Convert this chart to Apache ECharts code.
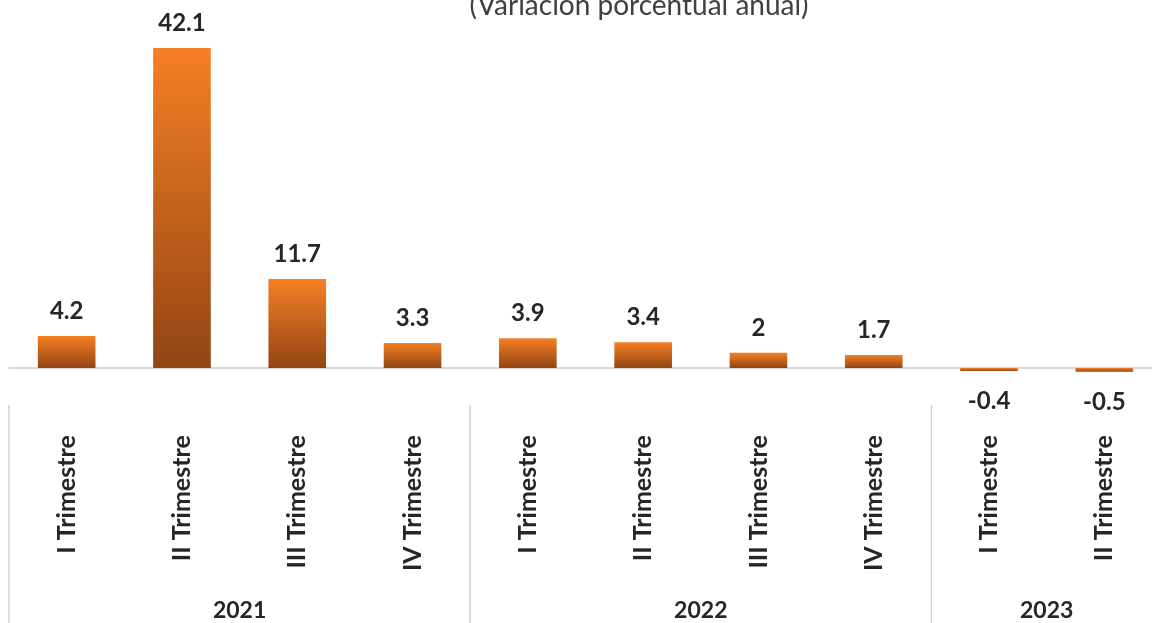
<!DOCTYPE html>
<html>
<head>
<meta charset="utf-8">
<script src="https://cdn.jsdelivr.net/npm/echarts@6/dist/echarts.min.js"></script>
<style>
  html, body { margin: 0; padding: 0; background: #fff; }
  #chart { width: 1152px; height: 623px; }
</style>
</head>
<body>
<div id="chart"></div>
<script>
// trimestres (eje x)
const categories = [
  'I Trimestre', 'II Trimestre', 'III Trimestre', 'IV Trimestre',
  'I Trimestre', 'II Trimestre', 'III Trimestre', 'IV Trimestre',
  'I Trimestre', 'II Trimestre'
];
// variación porcentual anual
const values = [4.2, 42.1, 11.7, 3.3, 3.9, 3.4, 2, 1.7, -0.4, -0.5];
// años y cuántos trimestres tiene cada uno
const years = ['2021', '2022', '2023'];
const yearSizes = [4, 4, 2];

const FONT = 'Lato, "Noto Sans", sans-serif';
const TEXT = '#262626';

const chart = echarts.init(document.getElementById('chart'));

// degradado naranja -> café como el original
const barColor = new echarts.graphic.LinearGradient(0, 0, 0, 1, [
  { offset: 0, color: '#F67F24' },
  { offset: 1, color: '#914513' }
]);

const option = {
  animation: false,
  grid: { left: 9, width: 1153, top: 10.8, bottom: 239.8, outerBoundsMode: 'none', containLabel: false },
  xAxis: {
    type: 'category',
    data: categories,
    axisLine: { onZero: true, lineStyle: { color: '#d9d9d9', width: 2 } },
    axisTick: { show: false },
    axisLabel: {
      rotate: 90,
      margin: 52,
      interval: 0,
      fontFamily: FONT,
      fontSize: 25,
      fontWeight: 'bold',
      color: TEXT
    }
  },
  yAxis: {
    type: 'value',
    min: -2,
    max: 47,
    show: false,
    splitLine: { show: false }
  },
  series: [{
    type: 'bar',
    barWidth: '50%',
    itemStyle: { color: barColor },
    label: {
      show: true,
      fontFamily: FONT,
      fontSize: 24,
      fontWeight: 'bold',
      color: TEXT
    },
    data: values.map(v => ({
      value: v,
      label: v < 0 ? { position: 'bottom', distance: 18 } : { position: 'top', distance: 13 }
    }))
  }]
};

chart.setOption(option);

// título (recortado arriba, como en el original) y etiquetas de año
const c0 = chart.convertToPixel({ xAxisIndex: 0 }, 0);
const c1 = chart.convertToPixel({ xAxisIndex: 0 }, 1);
const band = c1 - c0;
const graphics = [{
  type: 'text',
  x: 639,
  y: 6,
  style: {
    text: '(Variación porcentual anual)',
    align: 'center',
    verticalAlign: 'middle',
    font: '28px ' + FONT,
    fill: '#404040'
  }
}];
let start = 0;
years.forEach((y, i) => {
  const x0 = c0 + (start - 0.5) * band;
  const x1 = c0 + (start + yearSizes[i] - 0.5) * band;
  graphics.push({
    type: 'line',
    shape: { x1: x0, y1: 405, x2: x0, y2: 623 },
    style: { stroke: '#d0d0d0', lineWidth: 1.5 }
  });
  graphics.push({
    type: 'text',
    x: (x0 + x1) / 2,
    y: 611,
    style: {
      text: y,
      align: 'center',
      verticalAlign: 'middle',
      font: 'bold 23px ' + FONT,
      fill: TEXT
    }
  });
  start += yearSizes[i];
});
chart.setOption({ graphic: graphics });
</script>
</body>
</html>
